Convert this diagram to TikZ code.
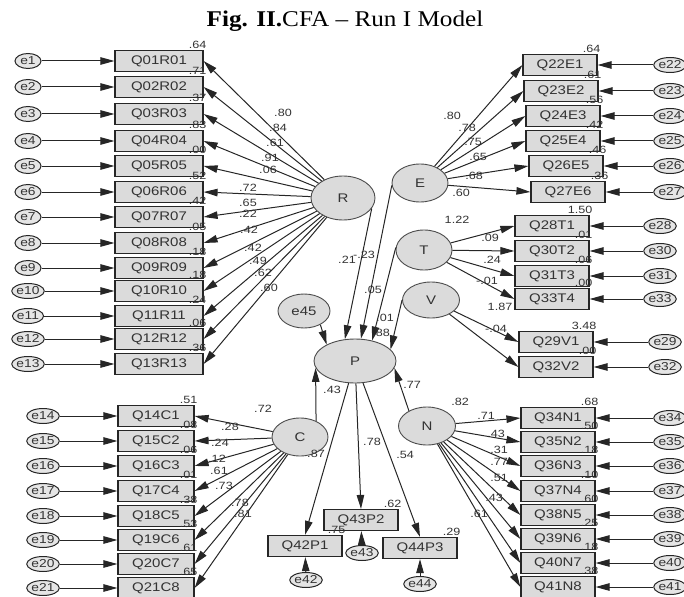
\documentclass[tikz,border=0pt]{standalone}
\usepackage{fontspec}
\setmainfont{Liberation Serif}
\newfontfamily\amosfont[FakeStretch=1.2]{Liberation Sans}
\newfontfamily\capfont[FakeStretch=1.12]{Liberation Serif}
\usetikzlibrary{arrows.meta,positioning,shapes.geometric}

\begin{document}
\begin{tikzpicture}[x=1pt, y=-1pt, >={Triangle[length=14pt,width=7.5pt]},
  every node/.style={text=black!80, font=\amosfont\fontsize{12.5}{12.5}\selectfont},
  item/.style={draw=black!85, line width=1.2pt, fill=black!14, minimum width=74pt, minimum height=21pt, inner sep=0pt},
  latent/.style={ellipse, draw=black!70, line width=0.9pt, fill=black!14, inner sep=0pt},
  err/.style={ellipse, draw=black!85, line width=1pt, fill=black!10, minimum width=26pt, minimum height=15pt, inner sep=0pt, font=\amosfont\fontsize{11.5}{11.5}\selectfont},
  coef/.style={inner sep=0pt, font=\amosfont\fontsize{10.5}{10.5}\selectfont},
  sq/.style={coef, anchor=south east, xshift=3pt, yshift=1pt},
  load/.style={->, line width=1pt, draw=black!85}]

  \useasboundingbox (0,0) rectangle (684,596);
  \node[font=\capfont\fontsize{22.5}{22.5}\selectfont, text=black] (title) at (345,21) {\textbf{Fig. II.}CFA – Run I Model};

  % latent factors
  \node[latent, minimum width=64pt, minimum height=44pt] (R) at (343,198) {R};
  \node[latent, minimum width=56pt, minimum height=38pt] (E) at (420,183) {E};
  \node[latent, minimum width=56pt, minimum height=40pt] (T) at (424,250) {T};
  \node[latent, minimum width=57pt, minimum height=36pt] (V) at (431,300) {V};
  \node[latent, minimum width=82pt, minimum height=44pt] (P) at (355,361) {P};
  \node[latent, minimum width=52pt, minimum height=34pt] (e45) at (304,311) {e45};
  \node[latent, minimum width=56pt, minimum height=38pt] (C) at (300,437) {C};
  \node[latent, minimum width=57pt, minimum height=38pt] (N) at (427,426) {N};

  % R items
  \foreach \n/\y/\e/\sq/\v/\px/\py in {Q01R01/61/1/.64/.80/283/113, Q02R02/87/2/.71/.84/278/128,
      Q03R03/114/3/.37/.61/275/143, Q04R04/141/4/.83/.91/270/158, Q05R05/166/5/.00/.06/268/170,
      Q06R06/192/6/.52/.72/248/188, Q07R07/217/7/.42/.65/248/203, Q08R08/243/8/.05/.22/248/214,
      Q09R09/268/9/.18/.42/249/230, Q10R10/291/10/.18/.42/253/248, Q11R11/316/11/.24/.49/258/261,
      Q12R12/339/12/.06/.62/263/273, Q13R13/364/13/.36/.60/269/288} {
    \node[item, minimum width=88pt] (\n) at (159,\y) {\n};
    \node[err] (e\e) at (28,\y) {e\e};
    \draw[load] (e\e) -- (\n);
    \draw[load] (R) -- (\n.east);
    \node[sq] (s\n) at (\n.north east) {\sq};
    \node[coef] (l\n) at (\px,\py) {\v};
  }

  % C items
  \foreach \n/\y/\e/\sq/\v/\px/\py in {Q14C1/416/14/.51/.72/263/409, Q15C2/441/15/.08/.28/230/427,
      Q16C3/466/16/.06/.24/220/443, Q17C4/491/17/.01/.12/217/459, Q18C5/516/18/.38/.61/219/471,
      Q19C6/540/19/.53/.73/224/486, Q20C7/564/20/.61/.78/240/503, Q21C8/588/21/.65/.81/243/514} {
    \node[item, minimum width=76pt] (\n) at (156,\y) {\n};
    \node[err] (e\e) at (43,\y) {e\e};
    \draw[load] (e\e) -- (\n);
    \draw[load] (C) -- (\n.east);
    \node[sq] (s\n) at (\n.north east) {\sq};
    \node[coef] (l\n) at (\px,\py) {\v};
  }

  % E items
  \foreach \n/\x/\y/\e/\sq/\v/\px/\py in {Q22E1/560/65/22/.64/.80/452/116, Q23E2/561/91/23/.61/.78/467/128,
      Q24E3/563/116/24/.56/.75/473/142, Q25E4/563/141/25/.42/.65/478/157,
      Q26E5/566/166/26/.46/.68/474/176, Q27E6/568/192/27/.36/.60/461/193} {
    \node[item] (\n) at (\x,\y) {\n};
    \node[err] (e\e) at (670,\y) {e\e};
    \draw[load] (e\e) -- (\n);
    \draw[load] (E) -- (\n.west);
    \node[sq] (s\n) at (\n.north east) {\sq};
    \node[coef] (l\n) at (\px,\py) {\v};
  }

  % T items
  \foreach \n/\y/\e/\sq/\v/\px/\py in {Q28T1/226/28/1.50/1.22/457/220, Q30T2/251/30/.01/.09/490/238,
      Q31T3/276/31/.06/.24/492/260, Q33T4/299/33/.00/-.01/487/281} {
    \node[item] (\n) at (552,\y) {\n};
    \node[err] (e\e) at (660,\y) {e\e};
    \draw[load] (e\e) -- (\n);
    \draw[load] (T) -- (\n.west);
    \node[sq] (s\n) at (\n.north east) {\sq};
    \node[coef] (l\n) at (\px,\py) {\v};
  }

  % V items
  \foreach \n/\y/\e/\sq/\v/\px/\py in {Q29V1/342/29/3.48/1.87/500/307, Q32V2/367/32/.00/-.04/496/329} {
    \node[item] (\n) at (556,\y) {\n};
    \node[err] (e\e) at (665,\y) {e\e};
    \draw[load] (e\e) -- (\n);
    \draw[load] (V) -- (\n.west);
    \node[sq] (s\n) at (\n.north east) {\sq};
    \node[coef] (l\n) at (\px,\py) {\v};
  }

  % N items
  \foreach \n/\y/\e/\sq/\v/\px/\py in {Q34N1/418/34/.68/.82/460/402, Q35N2/442/35/.50/.71/486/416,
      Q36N3/466/36/.18/.43/496/434, Q37N4/491/37/.10/.31/499/450, Q38N5/515/38/.60/.77/499/462,
      Q39N6/539/39/.25/.51/499/478, Q40N7/563/40/.18/.43/494/498, Q41N8/587/41/.38/.61/479/514} {
    \node[item] (\n) at (558,\y) {\n};
    \node[err] (e\e) at (670,\y) {e\e};
    \draw[load] (e\e) -- (\n);
    \draw[load] (N) -- (\n.west);
    \node[sq] (s\n) at (\n.north east) {\sq};
    \node[coef] (l\n) at (\px,\py) {\v};
  }

  % P items
  \node[item] (Q42P1) at (305,546) {Q42P1};
  \node[item] (Q43P2) at (361,520) {Q43P2};
  \node[item] (Q44P3) at (420,548) {Q44P3};
  \node[err] (e42) at (306,580) {e42};
  \node[err] (e43) at (362,553) {e43};
  \node[err] (e44) at (420,584) {e44};
  \draw[load] (e42) -- (Q42P1);
  \draw[load] (e43) -- (Q43P2);
  \draw[load] (e44) -- (Q44P3);
  \draw[load] (P) -- (Q42P1.north);
  \draw[load] (P) -- (Q43P2.north);
  \draw[load] (P.-70) -- (Q44P3.north);
  \node[sq] (sQ42P1) at (Q42P1.north east) {.75};
  \node[sq] (sQ43P2) at (Q43P2.north east) {.62};
  \node[sq] (sQ44P3) at (Q44P3.north east) {.29};
  \node[coef] (lQ42P1) at (316,454) {.87};
  \node[coef] (lQ43P2) at (372,442) {.78};
  \node[coef] (lQ44P3) at (405,455) {.54};

  % structural paths into P
  \draw[load] (e45.-40) -- (P.150);
  \draw[load] (R.-20) -- (P.115);
  \draw[load] (E.185) -- (P.75);
  \draw[load] (T.175) -- (P.50);
  \draw[load] (V.180) -- (P.18);
  \draw[load] (C.45) -- (P.190);
  \draw[load] (N.140) -- (P.-10);
  \node[coef] (lRP) at (347,260) {.21};
  \node[coef] (lEP) at (364,255) {-.23};
  \node[coef] (lTP) at (373,290) {.05};
  \node[coef] (lVP) at (385,318) {.01};
  \node[coef] (sP) at (381,333) {.88};
  \node[coef] (lCP) at (332,390) {.43};
  \node[coef] (lNP) at (412,385) {.77};
\end{tikzpicture}
\end{document}
